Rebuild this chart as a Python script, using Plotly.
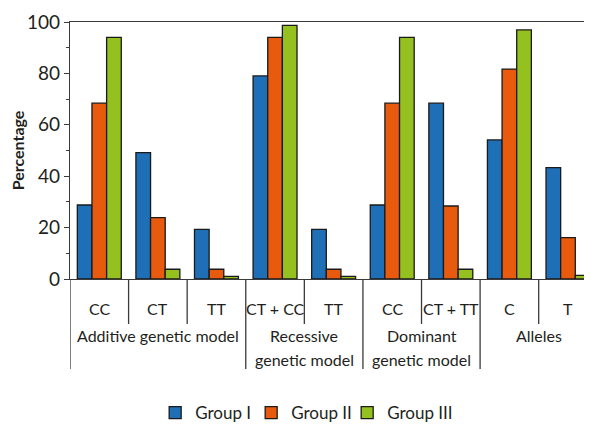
import plotly.graph_objects as go

sub_labels = ["CC", "CT", "TT", "CT + CC", "TT", "CC", "CT + TT", "C", "T"]
group_labels = ["Additive genetic model", "Recessive<br>genetic model", "Dominant<br>genetic model", "Alleles"]
group_sizes = [3, 2, 2, 2]
series_names = ["Group I", "Group II", "Group III"]
group1 = [28.8, 49.2, 19.3, 79.0, 19.3, 28.8, 68.4, 54.1, 43.3]
group2 = [68.4, 23.9, 3.8, 94.0, 3.8, 68.4, 28.4, 81.7, 16.1]
group3 = [94.0, 3.8, 1.0, 98.7, 1.0, 94.0, 3.8, 96.9, 1.4]
colors = ["#1F6FB6", "#E85B0E", "#95C120"]
y_ticks = [0, 20, 40, 60, 80, 100]

FONT = "Lato, Roboto, sans-serif"
TXT = "#231F20"
LINE = "#3a3a3a"

x_idx = list(range(len(sub_labels)))
fig = go.Figure()
for i, (name, vals, col) in enumerate(zip(series_names, [group1, group2, group3], colors)):
    fig.add_trace(go.Bar(x=x_idx, y=vals, name=name,
                         legendwidth=80 if i == len(series_names) - 1 else None,
                         marker=dict(color=col, line=dict(color="#1a1a1a", width=1.3))))

shapes = []
annotations = []
boundaries = [0]
for size in group_sizes:
    boundaries.append(boundaries[-1] + size)
# separators
for k in range(len(sub_labels) + 1):
    long = k in boundaries
    shapes.append(dict(type="line", xref="x", yref="paper", x0=k - 0.5, x1=k - 0.5,
                       y0=0, y1=-0.35 if long else -0.175,
                       line=dict(color=LINE, width=1.3)))
# sub labels
for i, lab in enumerate(sub_labels):
    annotations.append(dict(x=i, y=-0.113, xref="x", yref="paper", text=lab, showarrow=False,
                            xanchor="center", yanchor="middle",
                            font=dict(size=16, color=TXT, family=FONT)))
# group labels (one annotation per line)
for g, lab in enumerate(group_labels):
    c = (boundaries[g] + boundaries[g + 1] - 1) / 2
    for li, line_txt in enumerate(lab.split("<br>")):
        annotations.append(dict(x=c, y=-0.218 - li * 0.095, xref="x", yref="paper", text=line_txt,
                                showarrow=False, xanchor="center", yanchor="middle",
                                font=dict(size=16, color=TXT, family=FONT)))

# page body has an 8px margin, so the figure is 8px smaller than the window
fig.update_layout(
    width=584, height=418,
    margin=dict(l=62, r=0, t=14, b=147),
    paper_bgcolor="white", plot_bgcolor="white",
    barmode="group", bargap=0.25, bargroupgap=0,
    font=dict(family=FONT, color=TXT, size=16),
    shapes=shapes, annotations=annotations,
    showlegend=True,
    legend=dict(orientation="h", xref="container", yref="container", x=0.252, y=0.031,
                xanchor="left", yanchor="middle",
                font=dict(size=17, color=TXT, family=FONT), entrywidth=51, itemwidth=30,
                bgcolor="rgba(0,0,0,0)"),
    xaxis=dict(range=[-0.5, 8.41], tickvals=[], showticklabels=False, showline=True, mirror=True,
               linecolor=LINE, linewidth=1.3, showgrid=False, zeroline=False, automargin=False),
    yaxis=dict(range=[0, 100], tickvals=y_ticks, ticks="outside", ticklen=5, tickcolor=LINE,
               tickwidth=1.2, showline=True, linecolor=LINE, linewidth=1.3, showgrid=False,
               zeroline=False, automargin=False, tickfont=dict(size=19, color=TXT, family=FONT),
               minor=dict(dtick=10, ticks="outside", ticklen=3, tickcolor=LINE, tickwidth=1.2),
               title=dict(text="<b>Percentage</b>", font=dict(size=16, color=TXT, family=FONT),
                          standoff=0)),
)
fig.write_html("out.html")
